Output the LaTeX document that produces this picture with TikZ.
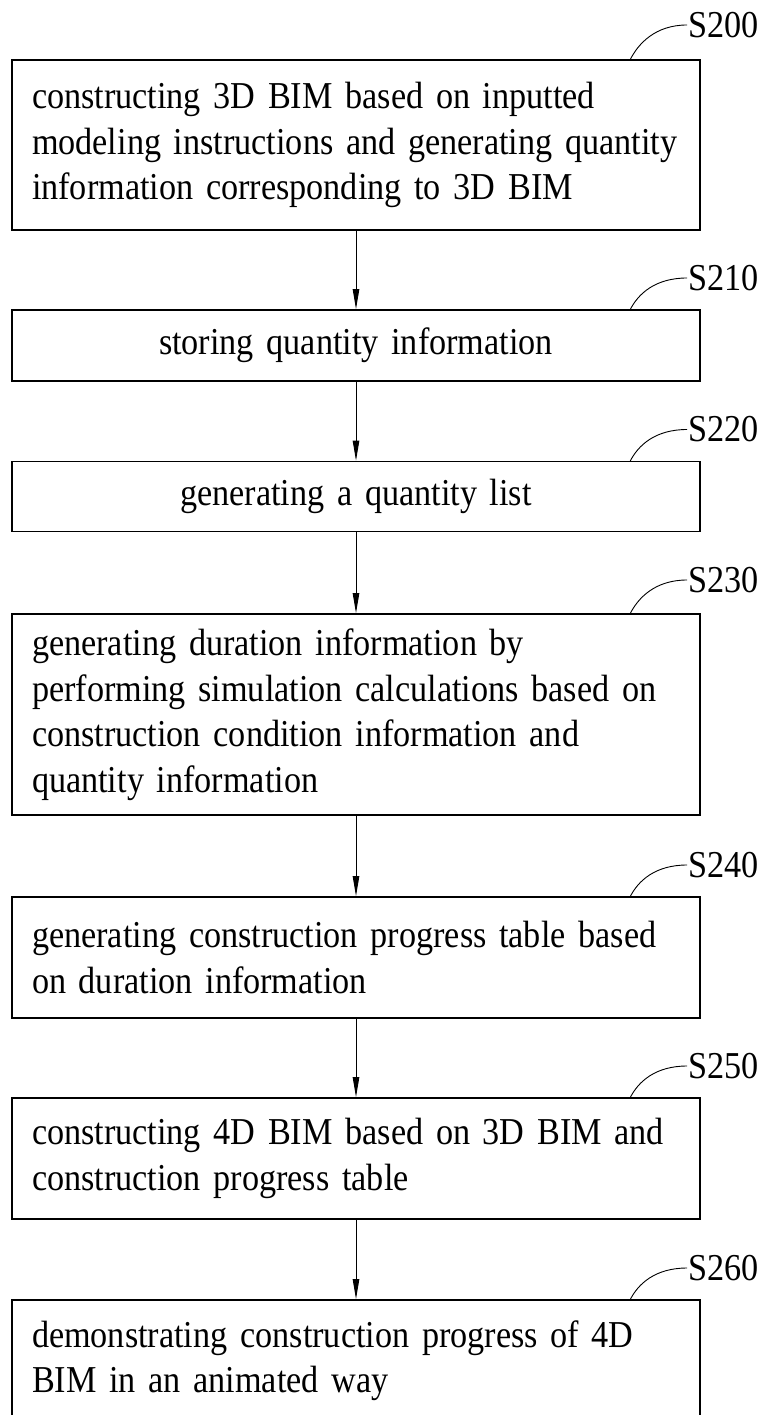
\documentclass[tikz,border=0pt]{standalone}
\usepackage{fontspec}
\setmainfont{Liberation Serif}[FakeStretch=0.9]
\usetikzlibrary{arrows.meta}
\DeclareRobustCommand\mytightsp{\spaceskip=7.5pt plus 2pt minus 1pt\relax}
\begin{document}
\begin{tikzpicture}[x=1pt,y=-1pt,
  stepbox/.style={draw, line width=1.8pt, minimum width=688pt, inner xsep=20pt, inner ysep=0pt,
    text width=648pt, align=left, font=\fontsize{38}{45.5}\selectfont\mytightsp},
  ctrbox/.style={stepbox, align=center},
  flow/.style={line width=0.9pt, -{Triangle[length=20pt,width=6.5pt]}},
  leader/.style={line width=0.9pt},
  lbl/.style={anchor=west, inner sep=1pt, font=\fontsize{38}{42}\selectfont}]
\useasboundingbox (0,0) rectangle (766,1415);

\node[stepbox, minimum height=170pt] (b1) at (356,145)
  {constructing 3D BIM based on inputted\\\mbox{modeling instructions and generating quantity}\\information corresponding to 3D BIM};
\node[ctrbox, minimum height=71pt] (b2) at (356,345.5) {storing quantity information};
\node[ctrbox, minimum height=70pt] (b3) at (356,496.5) {generating a quantity list};
\node[stepbox, minimum height=201pt] (b4) at (356,714.5)
  {generating duration information by\\\mbox{performing simulation calculations based on}\\construction condition information and\\quantity information};
\node[stepbox, minimum height=121pt] (b5) at (356,957.5)
  {\mbox{generating construction progress table based}\\on duration information};
\node[stepbox, minimum height=121pt] (b6) at (356,1158.5)
  {\mbox{constructing 4D BIM based on 3D BIM and}\\construction progress table};
\node[stepbox, minimum height=121pt] (b7) at (356,1360.5)
  {\mbox{demonstrating construction progress of 4D}\\BIM in an animated way};

\draw[flow] (b1) -- (b2);
\draw[flow] (b2) -- (b3);
\draw[flow] (b3) -- (b4);
\draw[flow] (b4) -- (b5);
\draw[flow] (b5) -- (b6);
\draw[flow] (b6) -- (b7);

\foreach \b/\t/\top/\dy in {b1/S200/60/35, b2/S210/310/32, b3/S220/461.5/32, b4/S230/614/34,
    b5/S240/897/32, b6/S250/1098/32, b7/S260/1300/32}{
  \node[lbl] (l\t) at (687,\top-\dy) {\t};
  \coordinate (s\t) at (630,\top);
  \draw[leader] (s\t) .. controls (638,\top-16) and (655,\top-\dy) .. (l\t.west);
}
\end{tikzpicture}
\end{document}
